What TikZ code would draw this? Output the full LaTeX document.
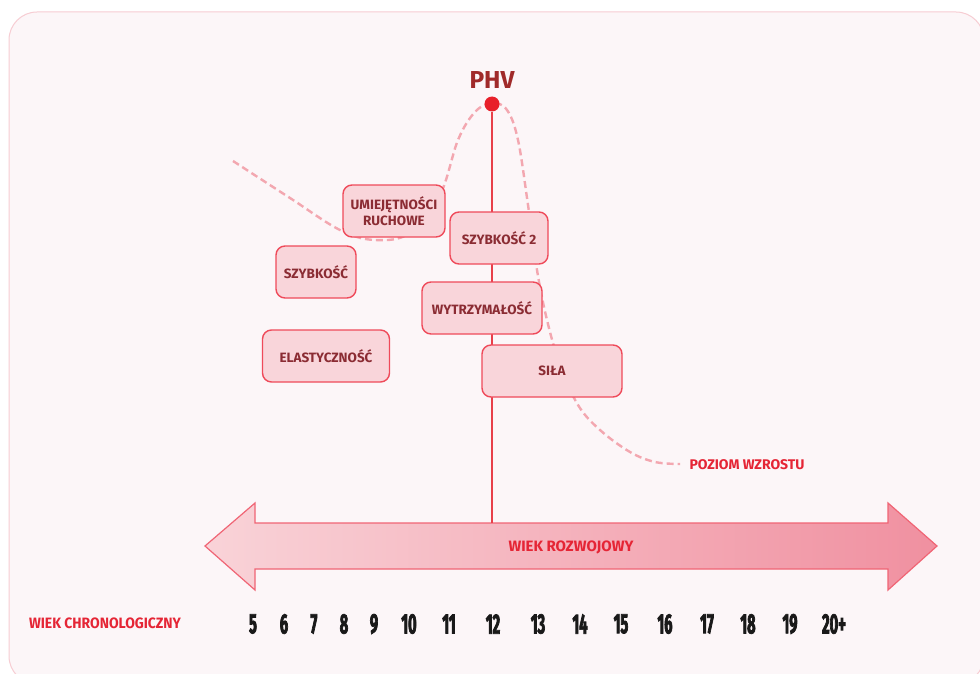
\documentclass[tikz,border=0pt]{standalone}
\usepackage{fontspec}
\setmainfont{Fira Sans}
\newfontfamily\labfont{Fira Sans}
\newfontfamily\numfont[FakeStretch=0.52, FakeBold=2.5]{Fira Sans}
\newfontfamily\narrowfont[FakeStretch=0.93]{Fira Sans}
\usepackage{tikz}
\usetikzlibrary{calc}
\definecolor{framefill}{HTML}{FCF6F8}
\definecolor{frameline}{HTML}{F7CDD3}
\definecolor{boxfill}{HTML}{F9D5DA}
\definecolor{boxline}{HTML}{EF4A5A}
\definecolor{boxtext}{HTML}{8B2C33}
\definecolor{phvred}{HTML}{A02A2A}
\definecolor{dotred}{HTML}{E8202A}
\definecolor{linered}{HTML}{E8404A}
\definecolor{curvepink}{HTML}{F3A7B0}
\definecolor{arrowleft}{HTML}{F9D3D8}
\definecolor{arrowright}{HTML}{F090A0}
\definecolor{arrowline}{HTML}{F06575}
\definecolor{labred}{HTML}{E52535}

\begin{document}
\begin{tikzpicture}[x=1pt,y=-1pt,
  box/.style={draw=boxline, fill=boxfill, line width=1.4pt, rounded corners=9pt,
    minimum height=52pt, inner sep=2pt, text=boxtext, align=center,
    font=\labfont\bfseries\fontsize{13.5}{16}\selectfont},
  age/.style={font=\numfont\bfseries\fontsize{28}{28}\selectfont, text=black!90},
  note/.style={text=labred, font=\narrowfont\bfseries\fontsize{15}{17}\selectfont}]
\useasboundingbox (0,0) rectangle (980,674);
\clip (0,0) rectangle (980,674);
\fill[white] (0,0) rectangle (980,674);
\draw[frameline, fill=framefill, line width=1pt, rounded corners=28pt] (9,12) rectangle (984,684);

\draw[curvepink, line width=2.4pt, dash pattern=on 7pt off 4pt] plot[smooth, tension=0.6] coordinates {(233,161) (290,198) (340,230) (375,240) (410,233) (440,195) (458,140) (475,112) (492,103) (507,110) (518,140) (528,205) (537,270) (547,320) (560,365) (578,405) (600,430) (630,452) (655,462) (680,464)};

\draw[arrowline, line width=1.2pt, left color=arrowleft, right color=arrowright]
  (205,546) -- (255,503) -- (255,523) -- (888,523) -- (888,503) -- (937,546)
  -- (888,590) -- (888,569) -- (255,569) -- (255,590) -- cycle;
\node[note, font=\labfont\bfseries\fontsize{15}{17}\selectfont] (rozwoj) at (571,547) {WIEK ROZWOJOWY};

\node[circle, fill=dotred, inner sep=0pt, minimum size=15pt] (phv) at (492,104) {};
\node[text=phvred, font=\labfont\bfseries\fontsize{24.5}{26}\selectfont] (phvlab) at (492,80) {PHV};
\coordinate (base) at (492,523);
\draw[linered, line width=1.6pt] (phv) -- (base);

\node[box, minimum width=102pt] (ruchowe) at (394,211) {UMIEJĘTNOŚCI\\RUCHOWE};
\node[box, minimum width=98pt] (szybkosc2) at (499,238) {SZYBKOŚĆ 2};
\node[box, minimum width=80pt] (szybkosc) at (316,272) {SZYBKOŚĆ};
\node[box, minimum width=120pt] (wytrzymalosc) at (482,308) {WYTRZYMAŁOŚĆ};
\node[box, minimum width=127pt] (elastycznosc) at (326,356) {ELASTYCZNOŚĆ};
\node[box, minimum width=140pt] (sila) at (552,371) {SIŁA};

\node[note, font=\labfont\bfseries\fontsize{14}{16}\selectfont, anchor=west] (wzrost) at (686,465) {POZIOM WZROSTU};
\node[note] (chrono) at (105,623) {WIEK CHRONOLOGICZNY};

\foreach \n/\x [count=\i] in {5/253, 6/284, 7/314, 8/344, 9/374, 10/409, 11/449, 12/493, 13/538, 14/580, 15/621, 16/665, 17/707, 18/748, 19/790, 20+/834}
  \node[age] (age\i) at (\x,624) {\n};
\end{tikzpicture}
\end{document}
